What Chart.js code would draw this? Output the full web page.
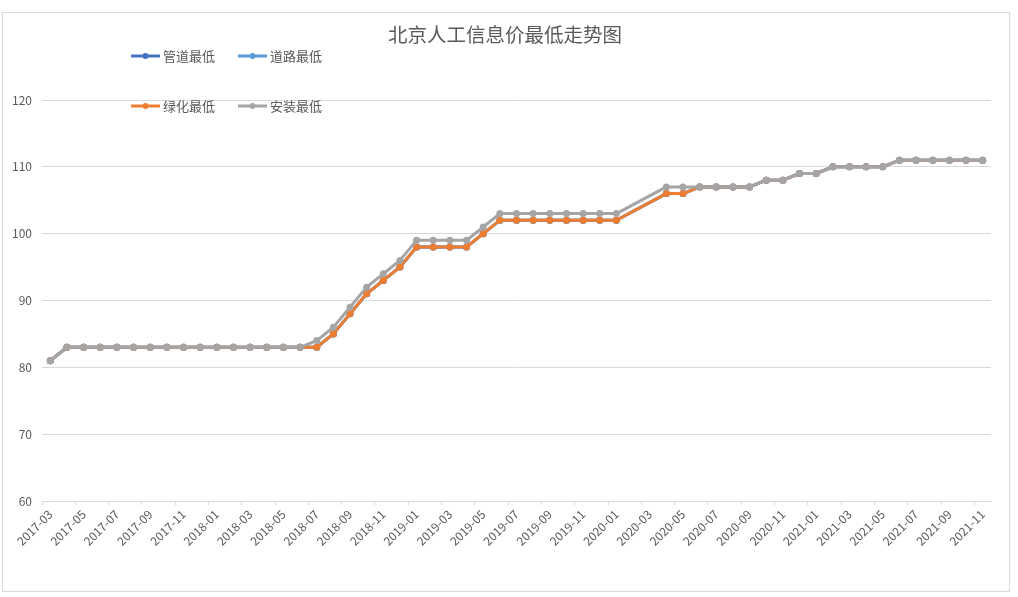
<!DOCTYPE html>
<html>
<head>
<meta charset="utf-8">
<title>北京人工信息价最低走势图</title>
<script src="https://cdn.jsdelivr.net/npm/chart.js@4/dist/chart.umd.min.js"></script>
<style>
    body { margin: 0; background: #fff; }
    #box {
        position: absolute;
        left: 2px;
        top: 12px;
        width: 1006px;
        height: 578px;
        border: 1px solid #d9d9d9;
    }
</style>
</head>
<body>
<div id="box"><canvas id="priceChart"></canvas></div>
<script>
    // 月份 (2020-02, 2020-03 无数据)
    const months = [
        '2017-03', '2017-04', '2017-05', '2017-06', '2017-07', '2017-08', '2017-09', '2017-10', '2017-11', '2017-12',
        '2018-01', '2018-02', '2018-03', '2018-04', '2018-05', '2018-06', '2018-07', '2018-08', '2018-09', '2018-10', '2018-11', '2018-12',
        '2019-01', '2019-02', '2019-03', '2019-04', '2019-05', '2019-06', '2019-07', '2019-08', '2019-09', '2019-10', '2019-11', '2019-12',
        '2020-01', '2020-02', '2020-03', '2020-04', '2020-05', '2020-06', '2020-07', '2020-08', '2020-09', '2020-10', '2020-11', '2020-12',
        '2021-01', '2021-02', '2021-03', '2021-04', '2021-05', '2021-06', '2021-07', '2021-08', '2021-09', '2021-10', '2021-11'
    ];

    const pipeMin = [
        81, 83, 83, 83, 83, 83, 83, 83, 83, 83,
        83, 83, 83, 83, 83, 83, 83, 85, 88, 91, 93, 95,
        98, 98, 98, 98, 100, 102, 102, 102, 102, 102, 102, 102,
        102, null, null, 106, 106, 107, 107, 107, 107, 108, 108, 109,
        109, 110, 110, 110, 110, 111, 111, 111, 111, 111, 111
    ];
    const roadMin = [
        81, 83, 83, 83, 83, 83, 83, 83, 83, 83,
        83, 83, 83, 83, 83, 83, 83, 85, 88, 91, 93, 95,
        98, 98, 98, 98, 100, 102, 102, 102, 102, 102, 102, 102,
        102, null, null, 106, 106, 107, 107, 107, 107, 108, 108, 109,
        109, 110, 110, 110, 110, 111, 111, 111, 111, 111, 111
    ];
    const greenMin = [
        81, 83, 83, 83, 83, 83, 83, 83, 83, 83,
        83, 83, 83, 83, 83, 83, 83, 85, 88, 91, 93, 95,
        98, 98, 98, 98, 100, 102, 102, 102, 102, 102, 102, 102,
        102, null, null, 106, 106, 107, 107, 107, 107, 108, 108, 109,
        109, 110, 110, 110, 110, 111, 111, 111, 111, 111, 111
    ];
    const installMin = [
        81, 83, 83, 83, 83, 83, 83, 83, 83, 83,
        83, 83, 83, 83, 83, 83, 84, 86, 89, 92, 94, 96,
        99, 99, 99, 99, 101, 103, 103, 103, 103, 103, 103, 103,
        103, null, null, 107, 107, 107, 107, 107, 107, 108, 108, 109,
        109, 110, 110, 110, 110, 111, 111, 111, 111, 111, 111
    ];

    const yTicks = [60, 70, 80, 90, 100, 110, 120];

    const textColor = '#595959';
    const gridColor = '#d9d9d9';
    const fontFamily = '"Noto Sans CJK SC", "Noto Sans", sans-serif';

    function series(label, data, color, order) {
        return {
            label: label,
            data: data,
            borderColor: color,
            backgroundColor: color,
            borderWidth: 3,
            pointRadius: 3.5,
            pointBorderWidth: 0,
            pointHoverRadius: 4,
            tension: 0,
            spanGaps: true,
            borderJoinStyle: 'round',
            order: order
        };
    }

    // 标题和图例 (图例压在绘图区上)
    const titleLegend = {
        id: 'titleLegend',
        afterDraw(chart) {
            const c = chart.ctx;
            c.save();
            c.fillStyle = textColor;
            c.font = '19.5px ' + fontFamily;
            c.textAlign = 'center';
            c.textBaseline = 'middle';
            c.fillText('北京人工信息价最低走势图', chart.width / 2 - 1, 22);

            const cols = [128, 235];
            const rows = [43, 93];
            c.font = '13px ' + fontFamily;
            c.textAlign = 'left';
            chart.data.datasets.forEach((ds, i) => {
                const x = cols[i % 2];
                const y = rows[Math.floor(i / 2)];
                c.strokeStyle = ds.borderColor;
                c.lineWidth = 3;
                c.beginPath();
                c.moveTo(x, y);
                c.lineTo(x + 29, y);
                c.stroke();
                c.fillStyle = ds.borderColor;
                c.beginPath();
                c.arc(x + 14.5, y, 3, 0, Math.PI * 2);
                c.fill();
                c.fillStyle = textColor;
                c.fillText(ds.label, x + 32, y);
            });
            c.restore();
        }
    };

    const ctx = document.getElementById('priceChart').getContext('2d');
    const priceChart = new Chart(ctx, {
        type: 'line',
        data: {
            labels: months,
            datasets: [
                series('管道最低', pipeMin, '#4472c4', 3),
                series('道路最低', roadMin, '#5b9bd5', 2),
                series('绿化最低', greenMin, '#ed7d31', 1),
                series('安装最低', installMin, '#a5a5a5', 0)
            ]
        },
        options: {
            responsive: true,
            maintainAspectRatio: false,
            animation: false,
            layout: { padding: { left: 0, top: 87, right: 18, bottom: 0 } },
            plugins: {
                legend: { display: false },
                title: { display: false },
                tooltip: { enabled: true }
            },
            scales: {
                x: {
                    type: 'category',
                    offset: true,
                    afterFit(scale) { scale.height = 90; },
                    grid: {
                        offset: true,
                        drawOnChartArea: false,
                        drawTicks: true,
                        tickLength: 4,
                        color: c => (c.index % 2 === 0 ? gridColor : 'rgba(0,0,0,0)')
                    },
                    border: { display: true, color: gridColor },
                    ticks: {
                        autoSkip: false,
                        minRotation: 45,
                        maxRotation: 45,
                        padding: 2,
                        color: textColor,
                        font: { family: fontFamily, size: 12 },
                        callback(value, index) {
                            return index % 2 === 0 ? this.getLabelForValue(value) : '';
                        }
                    }
                },
                y: {
                    min: yTicks[0],
                    max: yTicks[yTicks.length - 1],
                    afterFit(scale) { scale.width = 39; },
                    afterBuildTicks(scale) {
                        scale.ticks = yTicks.map(v => ({ value: v }));
                    },
                    grid: { color: gridColor, drawTicks: false },
                    border: { display: false },
                    ticks: {
                        padding: 10,
                        color: textColor,
                        font: { family: fontFamily, size: 12 }
                    }
                }
            }
        },
        plugins: [titleLegend]
    });
</script>
</body>
</html>
